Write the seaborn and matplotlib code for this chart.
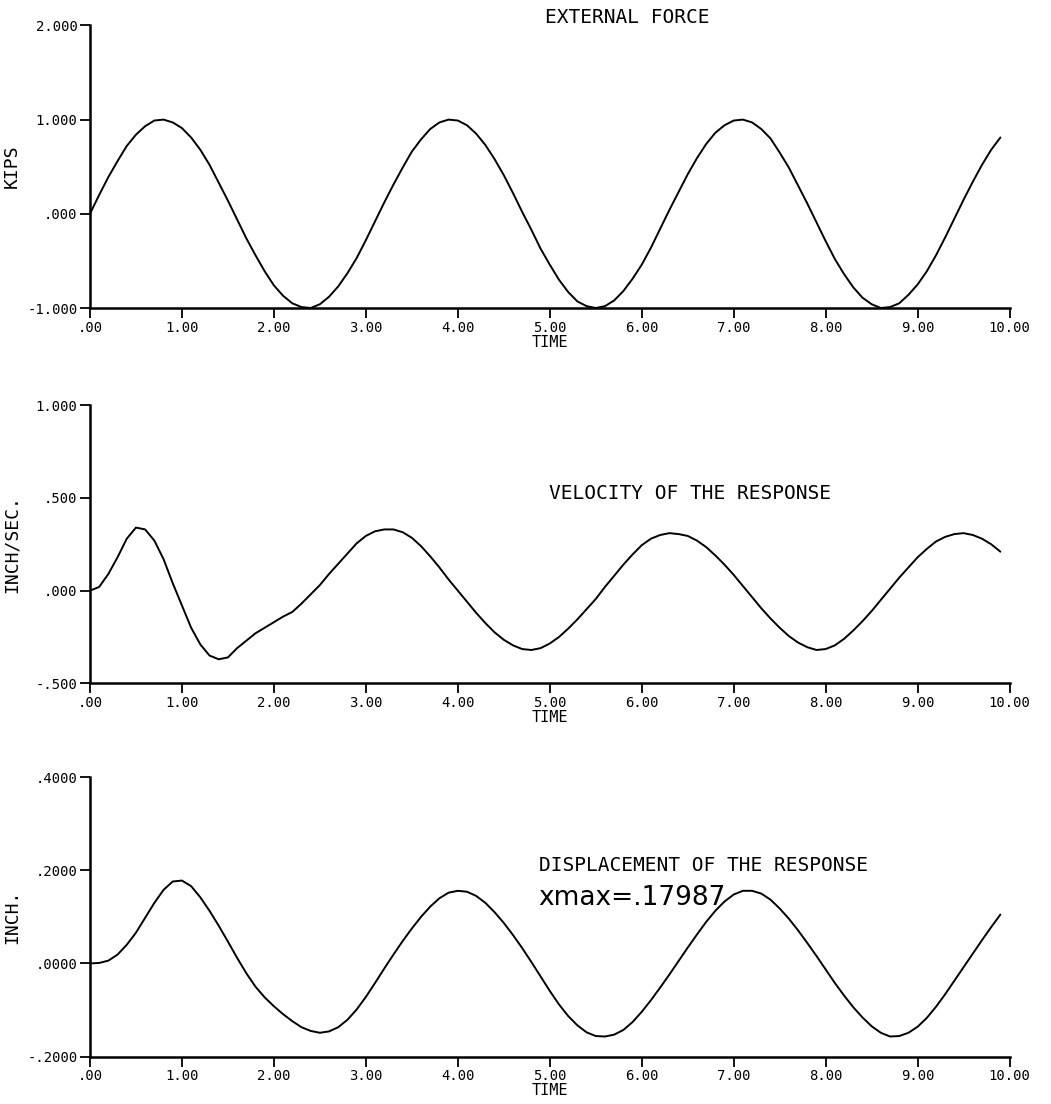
import numpy as np
import pandas as pd
import matplotlib
matplotlib.use("Agg")
import matplotlib.pyplot as plt
import seaborn as sns

# time axis of the three records (sec)
time = [round(0.1 * i, 1) for i in range(100)]

# external force (kips)
force = [0.00, 0.20, 0.39, 0.56, 0.72, 0.84, 0.93, 0.99, 1.00, 0.97,
         0.91, 0.81, 0.68, 0.52, 0.33, 0.14, -0.06, -0.26, -0.44, -0.61,
         -0.76, -0.87, -0.95, -0.99, -1.00, -0.96, -0.88, -0.77, -0.63, -0.47,
         -0.28, -0.08, 0.12, 0.31, 0.49, 0.66, 0.79, 0.90, 0.97, 1.00,
         0.99, 0.94, 0.85, 0.73, 0.58, 0.41, 0.22, 0.02, -0.17, -0.37,
         -0.54, -0.70, -0.83, -0.93, -0.98, -1.00, -0.98, -0.92, -0.82, -0.69,
         -0.54, -0.36, -0.16, 0.04, 0.23, 0.42, 0.59, 0.74, 0.86, 0.94,
         0.99, 1.00, 0.97, 0.90, 0.80, 0.65, 0.49, 0.30, 0.11, -0.09,
         -0.29, -0.48, -0.64, -0.78, -0.89, -0.96, -1.00, -0.99, -0.95, -0.86,
         -0.75, -0.61, -0.44, -0.25, -0.05, 0.15, 0.34, 0.52, 0.68, 0.81]

# velocity of the response (inch/sec)
velocity = [0.00, 0.02, 0.09, 0.18, 0.28, 0.34, 0.33, 0.27, 0.17, 0.04,
            -0.08, -0.20, -0.29, -0.35, -0.37, -0.36, -0.31, -0.27, -0.23, -0.20,
            -0.17, -0.14, -0.115, -0.07, -0.02, 0.03, 0.09, 0.145, 0.20, 0.255,
            0.295, 0.32, 0.33, 0.33, 0.315, 0.285, 0.24, 0.185, 0.125, 0.06,
            0.00, -0.06, -0.12, -0.175, -0.225, -0.265, -0.295, -0.315, -0.32, -0.31,
            -0.285, -0.25, -0.205, -0.155, -0.10, -0.045, 0.02, 0.08, 0.14, 0.195,
            0.245, 0.28, 0.30, 0.31, 0.305, 0.295, 0.27, 0.235, 0.19, 0.14,
            0.085, 0.025, -0.035, -0.095, -0.15, -0.20, -0.245, -0.28, -0.305, -0.32,
            -0.315, -0.295, -0.26, -0.215, -0.165, -0.11, -0.05, 0.01, 0.07, 0.125,
            0.18, 0.225, 0.265, 0.29, 0.305, 0.31, 0.30, 0.28, 0.25, 0.21]

# displacement of the response (inch)
displacement = [0.000, 0.001, 0.006, 0.019, 0.040, 0.066, 0.098, 0.130, 0.158, 0.176,
                0.178, 0.166, 0.142, 0.113, 0.081, 0.047, 0.012, -0.021, -0.050, -0.073,
                -0.092, -0.109, -0.124, -0.137, -0.145, -0.149, -0.146, -0.137, -0.121, -0.099,
                -0.072, -0.042, -0.011, 0.019, 0.048, 0.075, 0.100, 0.122, 0.140, 0.152,
                0.156, 0.154, 0.145, 0.130, 0.110, 0.087, 0.061, 0.033, 0.003, -0.028,
                -0.059, -0.088, -0.113, -0.133, -0.148, -0.156, -0.157, -0.153, -0.143, -0.126,
                -0.104, -0.079, -0.052, -0.024, 0.005, 0.034, 0.062, 0.089, 0.113, 0.133,
                0.148, 0.156, 0.156, 0.150, 0.137, 0.118, 0.096, 0.071, 0.044, 0.016,
                -0.013, -0.042, -0.069, -0.094, -0.116, -0.135, -0.149, -0.157, -0.156, -0.149,
                -0.136, -0.117, -0.093, -0.066, -0.037, -0.008, 0.021, 0.050, 0.078, 0.105]

x_ticks = list(range(11))
x_labels = [".00", "1.00", "2.00", "3.00", "4.00", "5.00", "6.00", "7.00", "8.00", "9.00", "10.00"]

force_ticks = [-1.0, 0.0, 1.0, 2.0]
force_labels = ["-1.000", ".000", "1.000", "2.000"]
vel_ticks = [-0.5, 0.0, 0.5, 1.0]
vel_labels = ["-.500", ".000", ".500", "1.000"]
disp_ticks = [-0.2, 0.0, 0.2, 0.4]
disp_labels = ["-.2000", ".0000", ".2000", ".4000"]

titles = ["EXTERNAL FORCE", "VELOCITY OF THE RESPONSE", "DISPLACEMENT OF THE RESPONSE"]
ylabels = ["KIPS", "INCH/SEC.", "INCH."]

sns.set_style("ticks")
plt.rcParams['font.family'] = ['DejaVu Sans Mono', 'DejaVu Sans']
plt.rcParams['text.color'] = 'black'
plt.rcParams['axes.labelcolor'] = 'black'
plt.rcParams['xtick.color'] = 'black'
plt.rcParams['ytick.color'] = 'black'

df = pd.DataFrame({"time": time, "force": force, "velocity": velocity,
                   "displacement": displacement})

fig = plt.figure(figsize=(10.51, 11.04), dpi=100)
boxes = [[0.0856, 0.721, 0.875, 0.256],
         [0.0856, 0.381, 0.875, 0.252],
         [0.0856, 0.043, 0.875, 0.253]]
cols = ["force", "velocity", "displacement"]
yticks = [force_ticks, vel_ticks, disp_ticks]
ylabs = [force_labels, vel_labels, disp_labels]
title_pos = [(0.584, 1.028), (0.652, 0.683), (0.667, 0.684)]

for i in range(3):
    ax = fig.add_axes(boxes[i])
    sns.lineplot(data=df, x="time", y=cols[i], ax=ax, color="black", linewidth=1.4)
    ax.set_xlim(0, 10)
    ax.set_ylim(yticks[i][0], yticks[i][-1])
    ax.set_xticks(x_ticks)
    ax.set_xticklabels(x_labels, fontsize=10)
    ax.set_yticks(yticks[i])
    ax.set_yticklabels(ylabs[i], fontsize=10)
    ax.tick_params(direction="out", length=7, width=1.3, pad=2)
    sns.despine(ax=ax)
    for s in ["left", "bottom"]:
        ax.spines[s].set_linewidth(1.8)
        ax.spines[s].set_color("black")
    ax.set_xlabel("TIME", fontsize=11, labelpad=0)
    ax.set_ylabel(ylabels[i], fontsize=13)
    ax.yaxis.set_label_coords(-0.075, 0.5)
    ax.text(title_pos[i][0], title_pos[i][1], titles[i], transform=ax.transAxes,
            ha="center", va="center", fontsize=14)

# annotation on the displacement record
ax.text(0.487, 0.567, "xmax=.17987", transform=ax.transAxes, ha="left", va="center",
        fontsize=19, family="DejaVu Sans")

fig.savefig("out.png", dpi=100)
